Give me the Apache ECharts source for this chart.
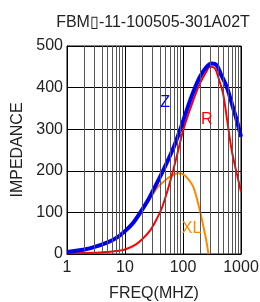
<!DOCTYPE html>
<html><head><meta charset="utf-8">
<script src="https://cdn.jsdelivr.net/npm/echarts@6/dist/echarts.min.js"></script>
<style>html,body{margin:0;padding:0;background:#fff}#c{width:260px;height:302px}</style>
</head><body><div id="c"></div>
<script>
const titleText = "FBM▯-11-100505-301A02T";
const xTicks = [1, 10, 100, 1000];
const yTicks = [0, 100, 200, 300, 400, 500];
const freqZ = [1, 2, 3, 5, 7, 10, 14, 19.4, 25, 30.8, 40, 52, 68, 89, 116, 151, 196, 256, 312, 380, 450, 567, 700, 850, 1000];
const valZ  = [5, 11, 17, 28, 38, 55, 76, 105, 130, 154, 185, 218, 254, 298, 346, 390, 426, 450, 458, 454, 432, 402, 360, 320, 282];
const freqR = [1, 3, 5, 7, 10, 15, 20, 27, 34, 43, 54, 68, 83, 101, 125, 151, 180, 210, 250, 292, 356, 420, 490, 580, 690, 830, 1000];
const valR  = [2, 3, 5, 7, 11, 22, 36, 56, 80, 110, 152, 202, 250, 298, 338, 370, 398, 418, 437, 450, 446, 418, 386, 320, 250, 198, 150];
const freqXL = [1, 2, 3, 5, 7, 10, 14, 19.4, 25, 30, 35, 40, 50, 60, 70, 83, 100, 120, 150, 190, 220, 250, 275];
const valXL  = [5, 11, 17, 28, 38, 55, 76, 105, 127, 143, 157, 166, 178, 186, 191, 194, 192, 182, 162, 112, 72, 35, 0];
const labels = [
  {name: "Z", f: 49, v: 363, color: "#0000ee"},
  {name: "R", f: 256, v: 324, color: "#ff0000"},
  {name: "XL", f: 141, v: 62, color: "#ff8800"}
];
const FONT = "Liberation Sans, Arial, sans-serif";
const gridFreqs = [];
for (let d = 1; d < 1000; d *= 10) for (let k = 2; k <= 9; k++) gridFreqs.push(d * k);
const zip = (a, b) => a.map((x, i) => [x, b[i]]);
const chart = echarts.init(document.getElementById('c'), null, {renderer: 'canvas'});
function lbl(l) {
  return {symbol: 'circle', symbolSize: 0, silent: true,
    data: [{coord: [l.f, l.v], label: {show: true, position: 'inside', formatter: l.name, color: l.color, fontSize: 16, fontFamily: FONT}}]};
}
chart.setOption({
  animation: false,
  title: {text: titleText, left: 148, top: 10, textAlign: 'center',
    textStyle: {fontSize: 16, fontWeight: 'normal', color: '#222', fontFamily: FONT}},
  grid: {left: 67, top: 46, right: 19, bottom: 48, show: true, borderColor: '#000', borderWidth: 1,
    containLabel: false, outerBoundsMode: 'none'},
  xAxis: {type: 'log', logBase: 10, min: 1, max: 1000,
    name: 'FREQ(MHZ)', nameLocation: 'middle', nameGap: 32,
    nameTextStyle: {fontSize: 16, color: '#222', fontFamily: FONT},
    axisLine: {lineStyle: {color: '#000'}}, axisTick: {show: false},
    axisLabel: {fontSize: 16, color: '#222', fontFamily: FONT, margin: 6, formatter: v => xTicks.includes(Math.round(v)) ? String(Math.round(v)) : ''},
    splitLine: {show: true, lineStyle: {color: '#000', width: 1}}},
  yAxis: {type: 'value', min: 0, max: 500, interval: 100,
    name: 'IMPEDANCE', nameLocation: 'middle', nameGap: 39,
    nameTextStyle: {fontSize: 16, color: '#222', fontFamily: FONT},
    axisLine: {show: true, lineStyle: {color: '#000'}}, axisTick: {show: false},
    axisLabel: {fontSize: 16, color: '#222', fontFamily: FONT, margin: 4, formatter: v => yTicks.includes(v) ? String(v) : ''},
    splitLine: {show: true, lineStyle: {color: '#000', width: 1}}},
  series: [
    {type: 'line', data: [], markLine: {silent: true, symbol: 'none', label: {show: false},
      lineStyle: {color: '#555', width: 1, type: 'solid'}, data: gridFreqs.map(f => ({xAxis: f}))}},
    {name: 'XL', type: 'line', data: zip(freqXL, valXL), smooth: 0.3, showSymbol: false,
      lineStyle: {color: '#ff8800', width: 2}, markPoint: lbl(labels[2])},
    {name: 'R', type: 'line', data: zip(freqR, valR), smooth: 0.3, showSymbol: false,
      lineStyle: {color: '#ff0000', width: 2}, markPoint: lbl(labels[1])},
    {name: 'Z', type: 'line', data: zip(freqZ, valZ), smooth: 0.3, showSymbol: false,
      lineStyle: {color: '#0000ee', width: 4}, markPoint: lbl(labels[0])}
  ]
});
</script></body></html>
